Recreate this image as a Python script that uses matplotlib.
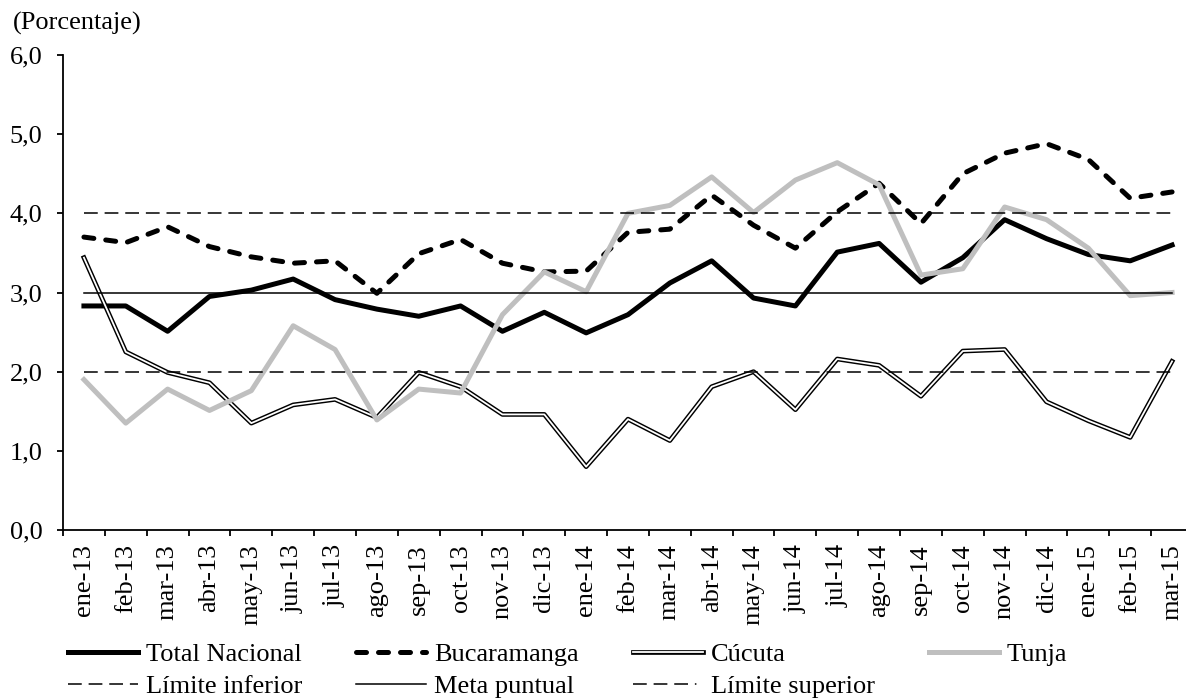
import matplotlib
matplotlib.use("Agg")
import matplotlib.pyplot as plt
from matplotlib.lines import Line2D
import numpy as np

meses = ["ene-13", "feb-13", "mar-13", "abr-13", "may-13", "jun-13", "jul-13",
         "ago-13", "sep-13", "oct-13", "nov-13", "dic-13", "ene-14", "feb-14",
         "mar-14", "abr-14", "may-14", "jun-14", "jul-14", "ago-14", "sep-14",
         "oct-14", "nov-14", "dic-14", "ene-15", "feb-15", "mar-15"]

total = [2.83, 2.83, 2.51, 2.95, 3.03, 3.17, 2.91, 2.79, 2.70, 2.83, 2.51, 2.75, 2.49, 2.72,
         3.12, 3.40, 2.93, 2.83, 3.51, 3.62, 3.13, 3.44, 3.92, 3.68, 3.48, 3.40, 3.60]
bucaramanga = [3.70, 3.63, 3.83, 3.58, 3.45, 3.37, 3.40, 2.99, 3.49, 3.67, 3.37, 3.26, 3.27, 3.76,
               3.80, 4.23, 3.85, 3.56, 4.02, 4.38, 3.87, 4.50, 4.76, 4.88, 4.68, 4.19, 4.27]
cucuta = [3.44, 2.25, 1.99, 1.86, 1.35, 1.58, 1.65, 1.42, 1.99, 1.81, 1.46, 1.46, 0.80, 1.40,
          1.13, 1.81, 2.00, 1.52, 2.16, 2.08, 1.69, 2.26, 2.28, 1.62, 1.38, 1.17, 2.13]
tunja = [1.90, 1.35, 1.78, 1.51, 1.76, 2.58, 2.28, 1.39, 1.78, 1.73, 2.72, 3.26, 3.01, 4.00,
         4.10, 4.46, 4.01, 4.42, 4.64, 4.36, 3.22, 3.30, 4.08, 3.92, 3.56, 2.96, 3.00]

lim_inf = 2.0
meta = 3.0
lim_sup = 4.0

plt.rcParams["font.family"] = ["Liberation Serif", "DejaVu Serif"]
plt.rcParams["font.size"] = 19

n = len(meses)
x = np.arange(n)

fig = plt.figure(figsize=(11.86, 6.98), dpi=100)
ax = fig.add_axes([63/1186, 168/698, 1130/1186, 475/698])

l_total, = ax.plot(x, total, color="black", lw=3.6)
l_buca, = ax.plot(x, bucaramanga, color="black", lw=3.6, dashes=(2, 2.4), dash_capstyle="round")
cuc_out, = ax.plot(x, cucuta, color="black", lw=3.4)
cuc_in, = ax.plot(x, cucuta, color="white", lw=1.3)
l_tunja, = ax.plot(x, tunja, color="#bfbfbf", lw=3.6)
l_inf, = ax.plot(x, [lim_inf]*n, color="black", lw=1.1, dashes=(9, 4.5))
l_meta, = ax.plot(x, [meta]*n, color="black", lw=1.1)
l_sup, = ax.plot(x, [lim_sup]*n, color="black", lw=1.1, dashes=(9, 4.5))

ax.set_xlim(-0.5, n - 0.5)
ax.set_ylim(0, 6)
yt = np.arange(0, 7)
ax.set_yticks(yt)
ax.set_yticklabels([f"{v:.1f}".replace(".", ",") for v in yt])
ax.set_xticks(x)
ax.set_xticklabels(meses, rotation=90)
ax.set_xticks(np.arange(-0.5, n, 1), minor=True)
ax.tick_params(axis="x", which="major", length=0, pad=10)
ax.tick_params(axis="x", which="minor", length=4.3, width=1.3, direction="out")
ax.tick_params(axis="y", length=4.3, width=1.3, pad=10.5)

for s in ["top", "right"]:
    ax.spines[s].set_visible(False)
for s in ["left", "bottom"]:
    ax.spines[s].set_linewidth(1.3)

# legend: row-major order, 4 columns
sup_handle = Line2D([], [], color="black", lw=1.1, dashes=(9, 4.5, 9, 4.5, 9, 4.5, 1, 4.5))
handles = [l_total, l_inf, l_buca, l_meta, (cuc_out, cuc_in), sup_handle, l_tunja]
labels = ["Total Nacional", "Límite inferior", "Bucaramanga", "Meta puntual",
          "Cúcuta", "Límite superior", "Tunja"]
fig.legend(handles, labels, ncol=4, loc="upper left", bbox_to_anchor=(68/1186, 1 - 643/698),
           frameon=False, handlelength=2.65, handletextpad=0.3, columnspacing=2.05,
           labelspacing=0.3, borderpad=0, borderaxespad=0)

fig.text(13/1186, 1 - 23/698, "(Porcentaje)", va="center", ha="left")

fig.savefig("out.png", dpi=100)
